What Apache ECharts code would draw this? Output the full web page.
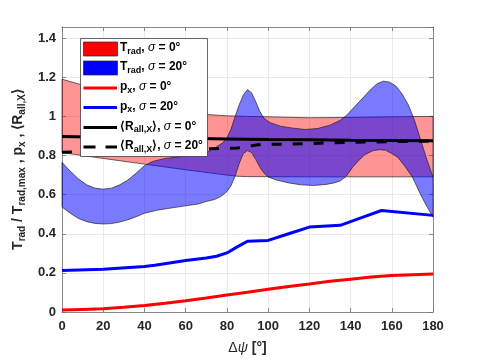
<!DOCTYPE html>
<html><head><meta charset="utf-8">
<script src="https://cdn.jsdelivr.net/npm/echarts@6/dist/echarts.min.js"></script>
<style>html,body{margin:0;padding:0;background:#fff}#c{width:480px;height:360px}</style>
</head><body><div id="c"></div>
<script>
// ---- data ----
const xTicks = [0,20,40,60,80,100,120,140,160,180];
const yTicks = [0,0.2,0.4,0.6,0.8,1,1.2,1.4];

// T_rad band, sigma = 0
const redUpX = [0,10,20,30,40,50,60,70,80,90,100,120,140,160,180];
const redUpY = [1.19,1.16,1.125,1.09,1.06,1.035,1.02,1.01,1.003,1.0,0.998,0.993,0.995,0.998,1.0];
const redLoX = [0,20,40,60,80,85,90,120,150,180];
const redLoY = [0.815,0.785,0.756,0.727,0.700,0.694,0.692,0.691,0.691,0.691];

// T_rad band, sigma = 20
const blueUpX = [0,4,8,12,16,20,24,28,32,36,40,44,50,60,66,70,74,78,80,82,84,86,88,90,92,94,96,98,101,106,112,118,124,130,135,138,142,146,150,153,156,159,162,165,168,171,174,177,180];
const blueUpY = [0.765,0.72,0.68,0.65,0.633,0.628,0.633,0.65,0.675,0.71,0.748,0.77,0.785,0.797,0.805,0.815,0.838,0.865,0.889,0.935,1.0,1.06,1.11,1.137,1.12,1.075,1.025,0.99,0.968,0.95,0.94,0.933,0.938,0.955,0.98,1.005,1.05,1.095,1.14,1.168,1.18,1.175,1.155,1.115,1.06,0.98,0.88,0.78,0.69];
const blueLoX = [0,4,8,12,16,20,24,28,32,36,40,46,52,60,66,70,74,77,80,82,84,86,88,90,92,94,96,98,100,104,110,116,122,128,132,135,138,141,144,147,151,154,157,160,163,166,168,170,172,174,177,180];
const blueLoY = [0.537,0.505,0.478,0.462,0.453,0.45,0.452,0.46,0.472,0.487,0.505,0.52,0.53,0.543,0.552,0.565,0.575,0.59,0.615,0.645,0.695,0.76,0.81,0.825,0.815,0.78,0.74,0.71,0.69,0.675,0.66,0.65,0.647,0.652,0.66,0.67,0.695,0.74,0.775,0.805,0.825,0.83,0.827,0.81,0.79,0.75,0.72,0.69,0.645,0.60,0.54,0.485];

// p_x lines
const pxRedX = [0,10,20,30,40,50,60,70,80,90,100,110,120,130,140,150,160,170,180];
const pxRedY = [0.010,0.013,0.016,0.024,0.033,0.045,0.058,0.072,0.087,0.101,0.116,0.130,0.143,0.157,0.168,0.179,0.186,0.190,0.194];
const pxBlueX = [0,20,40,45,60,70,75,80,85,90,100,110,120,135,145,155,180];
const pxBlueY = [0.212,0.219,0.233,0.239,0.263,0.276,0.285,0.302,0.333,0.362,0.366,0.400,0.434,0.443,0.481,0.519,0.494];

// <R_all,X> lines
const rSolidX = [0,20,40,60,80,100,120,140,160,180];
const rSolidY = [0.897,0.894,0.891,0.888,0.885,0.882,0.880,0.878,0.877,0.876];
const rDashX = [0,10,20,30,40,50,60,70,80,85,90,95,100,110,120,130,140,150,160,170,180];
const rDashY = [0.817,0.818,0.820,0.822,0.825,0.828,0.831,0.834,0.837,0.838,0.845,0.855,0.857,0.858,0.861,0.865,0.867,0.869,0.871,0.872,0.873];

// legend labels
const legendNames = ['T_rad, σ = 0°','T_rad, σ = 20°','p_x, σ = 0°','p_x, σ = 20°','⟨R_all,X⟩, σ = 0°','⟨R_all,X⟩, σ = 20°'];

// ---- chart ----
const FONT = 'Liberation Sans, Arial, Helvetica, sans-serif';
const TXT = '#262626';
const chart = echarts.init(document.getElementById('c'), null, {renderer:'canvas'});

const pair = (xs, ys) => xs.map((x,i)=>[x, ys[i]]);

function bandSeries(upX, upY, loX, loY, fill, z){
  return {
    type:'custom', z:z, silent:true, animation:false,
    data:[[0,0]],
    renderItem:function(params, api){
      const pts = [];
      for(let i=0;i<upX.length;i++) pts.push(api.coord([upX[i], upY[i]]));
      for(let i=loX.length-1;i>=0;i--) pts.push(api.coord([loX[i], loY[i]]));
      return {type:'polygon', shape:{points:pts}, style:{fill:fill, stroke:'rgba(20,20,20,0.8)', lineWidth:0.8}};
    }
  };
}
function lineSeries(xs, ys, color, type, z){
  return {type:'line', data:pair(xs,ys), showSymbol:false, symbol:'none', silent:true, animation:false, z:z,
    lineStyle:{color:color, width:3, type:type}};
}

const subRich = (size, lh) => ({
  b:{fontFamily:FONT, fontWeight:'bold', fontSize:size, color:TXT, lineHeight:lh, verticalAlign:'middle'},
  s:{fontFamily:FONT, fontWeight:'bold', fontSize:Math.round(size*0.72), color:TXT, lineHeight:Math.round(size*0.72), verticalAlign:'bottom'},
  i:{fontFamily:FONT, fontStyle:'italic', fontWeight:'normal', fontSize:size, color:TXT, lineHeight:lh, verticalAlign:'middle'},
  n:{fontFamily:FONT, fontWeight:'normal', fontSize:size, color:TXT, lineHeight:lh, verticalAlign:'middle'}
});

// convert "A_sub rest" style label to rich
function richLabel(name){
  // patterns: prefix_sub, rest
  const m = name.match(/^(.*?)_([^,⟩]*(?:,[^,⟩ ]*)?)(⟩?)(, )σ( = .*)$/);
  if(!m) return name;
  let sub = m[2];
  return '{b|'+m[1]+'}{s|'+sub+'}{b|'+m[3]+m[4]+'}{i|σ}{b|'+m[5]+'}';
}

const legendGraphics = [];
const LX = 80.5, LY = 38.5;
legendGraphics.push({type:'rect', z:100, shape:{x:LX, y:LY, width:127, height:118}, style:{fill:'#fff', stroke:'#262626', lineWidth:0.7}});
const rowY = [49, 68, 88, 107.5, 127.5, 147];
legendGraphics.push({type:'rect', z:101, shape:{x:83.5, y:42, width:34, height:14}, style:{fill:'#ff0000', stroke:'#262626', lineWidth:0.7}});
legendGraphics.push({type:'rect', z:101, shape:{x:83.5, y:61, width:34, height:14}, style:{fill:'#0000ff', stroke:'#262626', lineWidth:0.7}});
const lineCols = ['#ff0000','#0000ff','#000000','#000000'];
for(let k=0;k<4;k++){
  legendGraphics.push({type:'line', z:101, shape:{x1:83.5, y1:rowY[k+2], x2:117, y2:rowY[k+2]},
    style:{stroke:lineCols[k], lineWidth:3, lineDash: k===3 ? [12,10] : null}});
}
for(let k=0;k<6;k++){
  legendGraphics.push({type:'text', z:102, x:120, y:rowY[k]-1,
    style:{text:richLabel(legendNames[k]), rich:subRich(12,16), verticalAlign:'middle', align:'left'}});
}

const yName = '{b|T}{s|rad}{b| / T}{s|rad,max}{b| , p}{s|x}{b| , ⟨R}{s|all,X}{b|⟩}';

const axisCommon = {
  axisLine:{show:true, onZero:false, lineStyle:{color:'#6e6e6e', width:0.8}},
  axisTick:{show:true, inside:true, length:4, lineStyle:{color:'#6e6e6e', width:0.8}},
};

chart.setOption({
  animation:false,
  backgroundColor:'#fff',
  grid:{left:62, right:47, top:27, bottom:44, containLabel:false},
  xAxis:[
    Object.assign({type:'value', min:0, max:180, interval:20, position:'bottom',
      axisLabel:{fontFamily:FONT, fontWeight:'bold', fontSize:13, color:TXT, margin:8},
      splitLine:{show:true, lineStyle:{color:'#e4e4e4', width:0.8}},
      name:'{n|Δ}{i|ψ}{b| [°]}', nameLocation:'middle', nameGap:27,
      nameTextStyle:{rich:subRich(14,18)}}, axisCommon),
    Object.assign({type:'value', min:0, max:180, interval:20, position:'top',
      axisLabel:{show:false}, splitLine:{show:false}}, axisCommon)
  ],
  yAxis:[
    Object.assign({type:'value', min:0, max:1.457, interval:0.2, position:'left',
      axisLabel:{fontFamily:FONT, fontWeight:'bold', fontSize:13, color:TXT, margin:6, showMaxLabel:false,
        formatter:v=>String(parseFloat(v.toFixed(1)))},
      splitLine:{show:true, lineStyle:{color:'#e4e4e4', width:0.8}},
      name:yName, nameLocation:'middle', nameGap:32, nameRotate:90,
      nameTextStyle:{rich:subRich(14,18)}}, axisCommon),
    Object.assign({type:'value', min:0, max:1.457, interval:0.2, position:'right',
      axisLabel:{show:false}, splitLine:{show:false}}, axisCommon)
  ],
  series:[
    bandSeries(redUpX, redUpY, redLoX, redLoY, 'rgba(255,0,0,0.42)', 1),
    bandSeries(blueUpX, blueUpY, blueLoX, blueLoY, 'rgba(0,0,255,0.52)', 2),
    lineSeries(rSolidX, rSolidY, '#000000', 'solid', 3),
    lineSeries(rDashX, rDashY, '#000000', [10,11], 3),
    lineSeries(pxRedX, pxRedY, '#ff0000', 'solid', 4),
    lineSeries(pxBlueX, pxBlueY, '#0000ff', 'solid', 4)
  ],
  graphic:legendGraphics
});
</script>
</body></html>
